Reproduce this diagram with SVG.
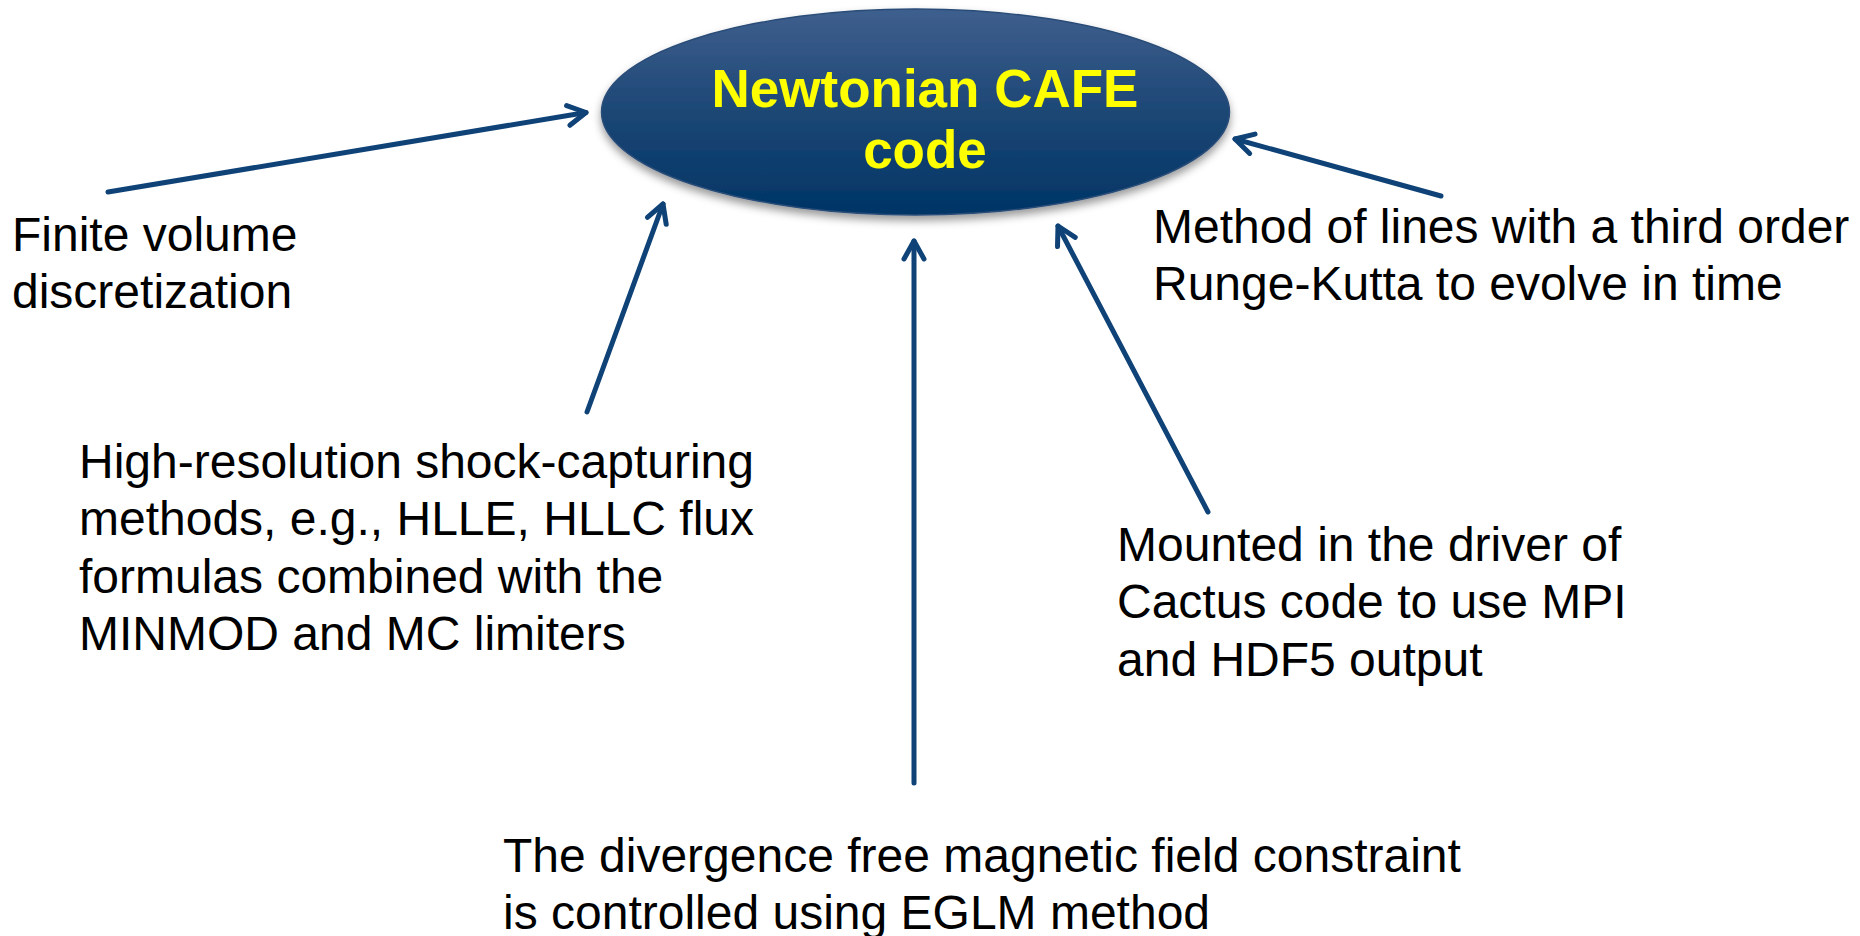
<svg xmlns="http://www.w3.org/2000/svg" width="1860" height="936" viewBox="0 0 1860 936">
<defs>
<linearGradient id="g" x1="0" y1="0" x2="0" y2="1">
<stop offset="0" stop-color="#3f5f8e"/>
<stop offset="0.5" stop-color="#1c4775"/>
<stop offset="1" stop-color="#003466"/>
</linearGradient>
<filter id="sh" x="-10%" y="-10%" width="120%" height="130%">
<feDropShadow dx="0" dy="5" stdDeviation="4" flood-color="#000" flood-opacity="0.4"/>
</filter>
<marker id="arr" viewBox="0 0 30 30" refX="24" refY="15" markerWidth="30" markerHeight="30" orient="auto" markerUnits="userSpaceOnUse">
<path d="M6,5 L24,15 L6,25" fill="none" stroke="#0f4276" stroke-width="5" stroke-linecap="round" stroke-linejoin="round"/>
</marker>
<style>
.t{font-family:"Liberation Sans",Arial,sans-serif;font-size:48px;fill:#000}
.h{font-family:"Liberation Sans",Arial,sans-serif;font-size:53px;font-weight:bold;fill:#ffff00}
.c{fill:none;stroke:#0f4276;stroke-width:5;stroke-linecap:round;marker-end:url(#arr)}
</style>
</defs>
<rect width="1860" height="936" fill="#fff"/>
<g id="center">
<ellipse cx="915.5" cy="112" rx="314" ry="103" fill="url(#g)" stroke="#2a4d78" stroke-width="1.5" filter="url(#sh)"/>
<text class="h" x="925" y="107" text-anchor="middle">Newtonian CAFE</text>
<text class="h" x="925" y="168" text-anchor="middle">code</text>
</g>
<g id="connectors">
<line class="c" x1="108" y1="192" x2="586" y2="112.5"/>
<line class="c" x1="587" y1="412" x2="663" y2="204"/>
<line class="c" x1="914" y1="783" x2="914" y2="241"/>
<line class="c" x1="1208" y1="512" x2="1058" y2="226"/>
<line class="c" x1="1441" y1="196" x2="1235" y2="139"/>
</g>
<g id="n-fv">
<text class="t" x="12" y="251">Finite volume</text>
<text class="t" x="12" y="308">discretization</text>
</g>
<g id="n-hrsc">
<text class="t" x="79" y="478">High-resolution shock-capturing</text>
<text class="t" x="79" y="535">methods, e.g., HLLE, HLLC flux</text>
<text class="t" x="79" y="593">formulas combined with the</text>
<text class="t" x="79" y="650">MINMOD and MC limiters</text>
</g>
<g id="n-eglm">
<text class="t" x="503" y="872">The divergence free magnetic field constraint</text>
<text class="t" x="503" y="929">is controlled using EGLM method</text>
</g>
<g id="n-cactus">
<text class="t" x="1117" y="561">Mounted in the driver of</text>
<text class="t" x="1117" y="618">Cactus code to use MPI</text>
<text class="t" x="1117" y="676">and HDF5 output</text>
</g>
<g id="n-mol">
<text class="t" x="1153" y="243">Method of lines with a third order</text>
<text class="t" x="1153" y="300">Runge-Kutta to evolve in time</text>
</g>
</svg>
